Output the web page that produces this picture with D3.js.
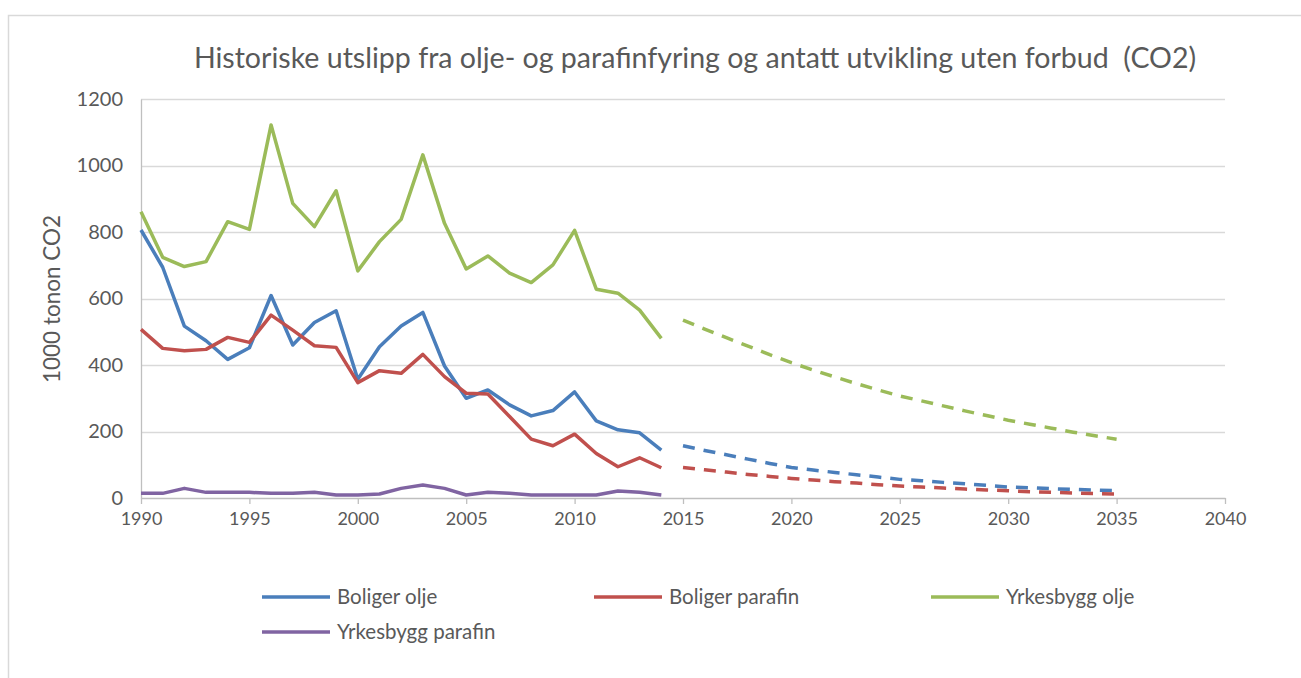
<!DOCTYPE html>
<html>
<head>
<meta charset="utf-8">
<script src="https://cdnjs.cloudflare.com/ajax/libs/d3/7.8.5/d3.min.js"></script>
<style>
  body { margin: 0; background: #fff; }
  svg text { font-family: Lato, "Open Sans", sans-serif; fill: #595959; }
</style>
</head>
<body>
<svg id="chart" width="1301" height="678"></svg>
<script>
// historical years and projection years
var histYears = d3.range(1990, 2015),
    projYears = d3.range(2015, 2036);

var boligerOlje = [806, 694, 517, 473, 417, 452, 609, 460, 528, 563, 357, 455, 517, 558, 397,
    300, 325, 280, 247, 263, 319, 232, 205, 196, 144];
var boligerParafin = [507, 450, 443, 447, 483, 468, 550, 505, 458, 453, 347, 383, 375, 432, 365,
    315, 313, 245, 177, 157, 192, 134, 94, 121, 91];
var yrkesOlje = [861, 724, 696, 711, 831, 808, 1122, 886, 816, 924, 683, 771, 838, 1032, 826,
    689, 728, 676, 648, 701, 805, 628, 616, 565, 480];
var yrkesParafin = [14, 14, 29, 17, 17, 17, 14, 14, 17, 9, 9, 12, 29, 39, 29,
    9, 17, 14, 9, 9, 9, 9, 21, 17, 9];

// projections (antatt utvikling uten forbud)
var boligerOljeProj = [157, 143, 130, 117, 104, 92, 84, 77, 70, 63, 56, 52, 47, 43, 38, 33, 31, 28, 26, 24, 22];
var boligerParafinProj = [92, 85, 78, 71, 65, 59, 54, 49, 45, 40, 36, 33, 30, 27, 24, 22, 19, 17, 15, 13, 12];
var yrkesOljeProj = [535, 508, 482, 457, 431, 407, 385, 364, 344, 325, 307, 292, 277, 262, 248, 234, 222, 210, 198, 187, 177];

var seriesNames = ['Boliger olje', 'Boliger parafin', 'Yrkesbygg olje', 'Yrkesbygg parafin'];
var seriesColors = ['#4a7ebb', '#c0504d', '#9bbb59', '#8064a2'];
var xTicks = d3.range(1990, 2041, 5);
var yTicks = d3.range(0, 1201, 200);

var svg = d3.select('#chart');

// outer chart frame
svg.append('path')
    .attr('d', 'M8.5,678 V15.5 H1301')
    .attr('fill', 'none').attr('stroke', '#d9d9d9').attr('stroke-width', 1.5);

var x = d3.scaleLinear().domain([1990, 2040]).range([141, 1225]),
    y = d3.scaleLinear().domain([0, 1200]).range([498, 99]);

// gridlines
svg.append('g').selectAll('line').data(yTicks.slice(1)).enter().append('line')
    .attr('x1', x(1990)).attr('x2', x(2040))
    .attr('y1', function(d) { return Math.round(y(d)) + 0.5; })
    .attr('y2', function(d) { return Math.round(y(d)) + 0.5; })
    .attr('stroke', '#d9d9d9').attr('stroke-width', 1.3);

// y axis
var yAxis = svg.append('g').attr('transform', 'translate(' + x(1990) + ',0)')
    .call(d3.axisLeft(y).tickValues(yTicks).tickFormat(d3.format('d')).tickSize(0).tickPadding(18));
yAxis.select('.domain').attr('stroke', '#bfbfbf').attr('stroke-width', 1.3);
yAxis.selectAll('text').style('font-size', '20px').attr('fill', '#595959');

// x axis
var xAxis = svg.append('g').attr('transform', 'translate(0,' + y(0) + ')')
    .call(d3.axisBottom(x).tickValues(xTicks).tickFormat(d3.format('d')).tickSize(6).tickSizeOuter(0).tickPadding(8));
xAxis.select('.domain').attr('stroke', '#bfbfbf').attr('stroke-width', 1.3);
xAxis.selectAll('.tick line').attr('stroke', '#bfbfbf').attr('stroke-width', 1.3);
xAxis.selectAll('text').style('font-size', '18px').attr('fill', '#595959');

var line = d3.line()
    .x(function(d) { return x(d[0]); })
    .y(function(d) { return y(d[1]); });

var hist = [boligerOlje, boligerParafin, yrkesOlje, yrkesParafin];
var proj = [boligerOljeProj, boligerParafinProj, yrkesOljeProj];

// projections drawn dashed
svg.append('g').selectAll('path').data(proj).enter().append('path')
    .attr('d', function(vals) { return line(d3.zip(projYears, vals)); })
    .attr('fill', 'none')
    .attr('stroke', function(d, i) { return seriesColors[i]; })
    .attr('stroke-width', 3.5)
    .attr('stroke-dasharray', '12,9');

svg.append('g').selectAll('path').data(hist).enter().append('path')
    .attr('d', function(vals) { return line(d3.zip(histYears, vals)); })
    .attr('fill', 'none')
    .attr('stroke', function(d, i) { return seriesColors[i]; })
    .attr('stroke-width', 3.5)
    .attr('stroke-linejoin', 'round');

// title, sized to the reference width
var title = svg.append('text')
    .attr('x', 695).attr('y', 68)
    .attr('text-anchor', 'middle')
    .style('font-size', '24px')
    .style('white-space', 'pre')
    .text('Historiske utslipp fra olje- og parafinfyring og antatt utvikling uten forbud  (CO2)');
var tw = title.node().getComputedTextLength();
title.style('font-size', (24 * 1003 / tw) + 'px');

// y axis title
svg.append('text')
    .attr('transform', 'translate(60,299) rotate(-90)')
    .attr('text-anchor', 'middle')
    .style('font-size', '22.5px')
    .text('1000 tonon CO2');

// legend
var legendPos = [[262, 597], [594, 597], [931, 597], [262, 632]];
var leg = svg.append('g').selectAll('g').data(seriesNames).enter().append('g')
    .attr('transform', function(d, i) { return 'translate(' + legendPos[i][0] + ',' + legendPos[i][1] + ')'; });
leg.append('line')
    .attr('x1', 0).attr('x2', 68)
    .attr('stroke', function(d, i) { return seriesColors[i]; })
    .attr('stroke-width', 3.5);
leg.append('text')
    .attr('x', 75).attr('dy', '0.35em')
    .style('font-size', '20.5px')
    .text(function(d) { return d; });
</script>
</body>
</html>
